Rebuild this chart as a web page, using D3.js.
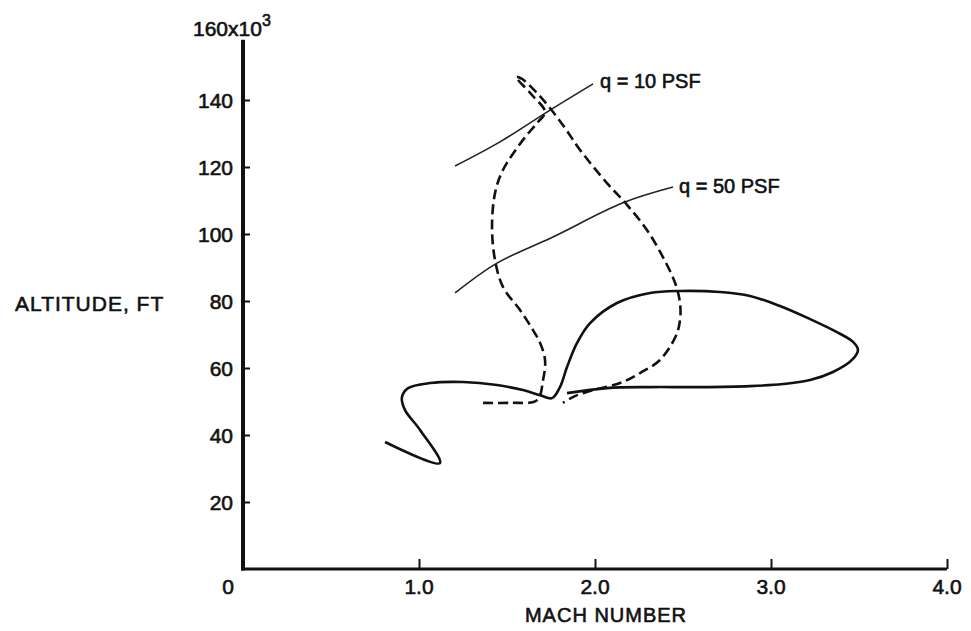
<!DOCTYPE html>
<html>
<head>
<meta charset="utf-8">
<script src="https://cdn.jsdelivr.net/npm/d3@7"></script>
<style>
  body { margin: 0; background: #fff; }
  text { font-family: "Liberation Sans", Arial, sans-serif; fill: #111; stroke: #111; stroke-width: 0.6px; }
</style>
</head>
<body>
<div id="chart"></div>
<script>
// values (mach number, altitude in 1000 ft)
var xTicks = [1, 2, 3, 4];
var xTickLabels = ["1.0", "2.0", "3.0", "4.0"];
var yTicks = [20, 40, 60, 80, 100, 120, 140];

var trajMach = [0.807, 1.119, 1.006, 0.920, 0.903, 0.938, 1.063, 1.250, 1.443, 1.591, 1.688, 1.756,
  1.801, 1.841, 1.898, 1.972, 2.125, 2.313, 2.483, 2.710, 2.881, 3.051, 3.222, 3.364, 3.466,
  3.494, 3.460, 3.352, 3.222, 3.068, 2.881, 2.597, 2.313, 2.068, 1.841];
var trajAlt = [37.9, 31.6, 41.5, 47.5, 51.3, 54.0, 55.5, 55.8, 54.9, 53.4, 51.9, 51.0,
  54.3, 60.3, 67.5, 73.4, 79.4, 82.4, 83.0, 82.7, 81.5, 78.5, 74.6, 71.0, 67.8,
  65.4, 62.4, 58.8, 56.4, 55.2, 54.6, 54.3, 54.3, 54.0, 52.5];

var dashMach = [1.364, 1.517, 1.670, 1.705, 1.716, 1.688, 1.648, 1.574, 1.477, 1.432, 1.415, 1.432,
  1.477, 1.591, 1.670, 1.716, 1.642, 1.551, 1.585, 1.670, 1.744, 1.830, 1.915, 2.068, 2.182,
  2.295, 2.386, 2.455, 2.483, 2.483, 2.460, 2.369, 2.256, 2.142, 1.989, 1.886, 1.818];
var dashAlt = [49.6, 49.6, 50.4, 56.4, 62.4, 67.5, 71.3, 77.3, 84.2, 92.2, 102.1, 112.2,
  119.1, 128.1, 133.1, 136.4, 141.5, 146.9, 146.3, 142.1, 137.6, 131.6, 125.1, 115.2, 108.7,
  101.2, 93.1, 85.4, 79.4, 74.3, 69.6, 62.4, 58.5, 55.5, 53.4, 51.6, 49.6];

var q10Mach = [1.205, 1.460, 1.727, 1.989];
var q10Alt = [120.3, 127.5, 136.4, 144.8];
var q50Mach = [1.205, 1.443, 1.761, 2.159, 2.443];
var q50Alt = [82.4, 91.3, 99.1, 109.3, 114.0];

function drawSvg() {
  const width = 971;
  const height = 631;

  let xScale = d3.scaleLinear().domain([0, 4]).range([243, 947]);
  let yScale = d3.scaleLinear().domain([0, 160]).range([569, 33]);

  let svg = d3
    .select("#chart")
    .append("svg")
    .attr("width", width)
    .attr("height", height);

  let line = d3
    .line()
    .x((d) => xScale(d[0]))
    .y((d) => yScale(d[1]))
    .curve(d3.curveCatmullRom.alpha(0.5));

  let zip = (a, b) => a.map((v, i) => [v, b[i]]);

  // constant dynamic pressure lines
  [zip(q10Mach, q10Alt), zip(q50Mach, q50Alt)].forEach(function (pts) {
    svg
      .append("path")
      .attr("d", line(pts))
      .attr("fill", "none")
      .attr("stroke", "#222")
      .attr("stroke-width", 1.6);
  });

  svg
    .append("path")
    .attr("d", line(zip(dashMach, dashAlt)))
    .attr("fill", "none")
    .attr("stroke", "#111")
    .attr("stroke-width", 2.6)
    .attr("stroke-dasharray", "10,5");

  svg
    .append("path")
    .attr("d", line(zip(trajMach, trajAlt)))
    .attr("fill", "none")
    .attr("stroke", "#111")
    .attr("stroke-width", 2.6)
    .attr("stroke-linejoin", "round");

  // axes
  let xAxis = d3.axisTop(xScale).tickValues(xTicks).tickSize(10).tickFormat("");
  let yAxis = d3.axisRight(yScale).tickValues(yTicks).tickSize(7).tickFormat("");

  let gx = svg.append("g").attr("transform", "translate(0,569)").call(xAxis);
  gx.select(".domain").remove();
  gx.selectAll("line").attr("stroke", "#111").attr("stroke-width", 2);

  let gy = svg.append("g").attr("transform", "translate(243,0)").call(yAxis);
  gy.select(".domain").remove();
  gy.selectAll("line").attr("stroke", "#111").attr("stroke-width", 2);

  svg
    .append("line")
    .attr("x1", xScale(0) - 2)
    .attr("x2", xScale(4))
    .attr("y1", yScale(0))
    .attr("y2", yScale(0))
    .attr("stroke", "#111")
    .attr("stroke-width", 3.2);

  svg
    .append("line")
    .attr("x1", xScale(0))
    .attr("x2", xScale(0))
    .attr("y1", yScale(0) + 1.5)
    .attr("y2", yScale(158))
    .attr("stroke", "#111")
    .attr("stroke-width", 4);

  // tick labels
  svg
    .selectAll(".xlab")
    .data(xTicks)
    .enter()
    .append("text")
    .attr("x", (d) => xScale(d))
    .attr("y", 594)
    .attr("text-anchor", "middle")
    .style("font-size", "21px")
    .text((d, i) => xTickLabels[i]);

  svg
    .append("text")
    .attr("x", 228)
    .attr("y", 594)
    .attr("text-anchor", "middle")
    .style("font-size", "21px")
    .text("0");

  svg
    .selectAll(".ylab")
    .data(yTicks)
    .enter()
    .append("text")
    .attr("x", 233)
    .attr("y", (d) => yScale(d) + 7.5)
    .attr("text-anchor", "end")
    .style("font-size", "21px")
    .text((d) => d);

  let top = svg
    .append("text")
    .attr("x", 193)
    .attr("y", 36)
    .style("font-size", "21px");
  top.append("tspan").text("160x10");
  top.append("tspan").attr("dy", -10).style("font-size", "16px").text("3");

  svg
    .append("text")
    .attr("x", 15)
    .attr("y", 311)
    .style("font-size", "21px")
    .style("letter-spacing", "1px")
    .text("ALTITUDE, FT");

  svg
    .append("text")
    .attr("x", 606)
    .attr("y", 622)
    .attr("text-anchor", "middle")
    .style("font-size", "20px")
    .style("letter-spacing", "1px")
    .text("MACH NUMBER");

  svg
    .append("text")
    .attr("x", 600)
    .attr("y", 88)
    .style("font-size", "20px")
    .text("q = 10  PSF");

  svg
    .append("text")
    .attr("x", 679)
    .attr("y", 193)
    .style("font-size", "20px")
    .text("q = 50  PSF");
}

drawSvg();
</script>
</body>
</html>
